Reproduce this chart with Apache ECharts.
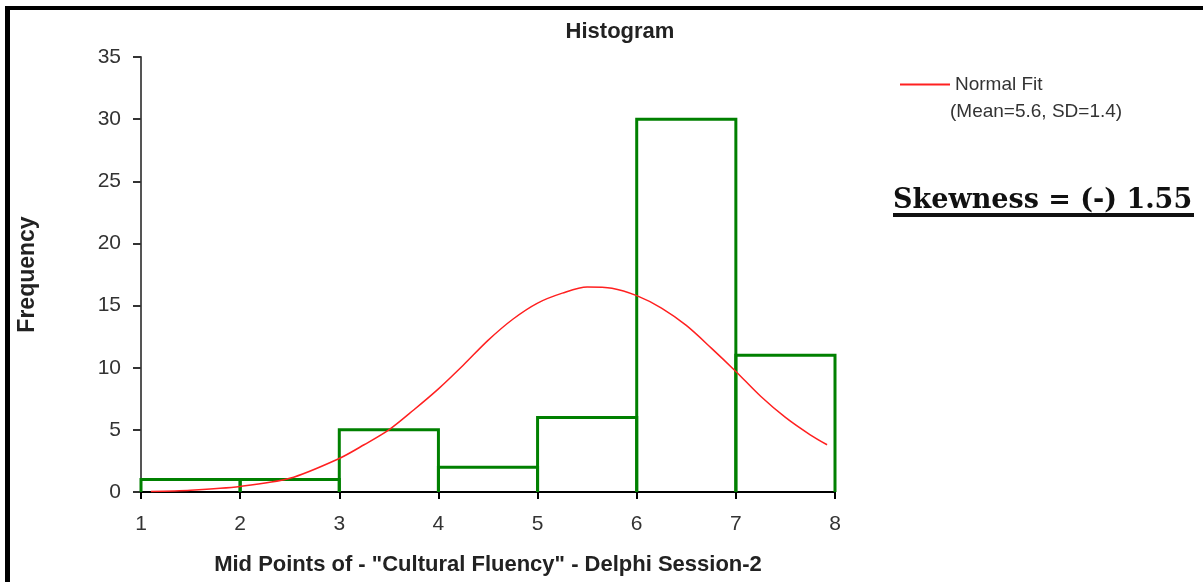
<!DOCTYPE html>
<html>
<head>
<meta charset="utf-8">
<script src="https://cdn.jsdelivr.net/npm/echarts@6/dist/echarts.min.js"></script>
<style>
  html, body { margin: 0; padding: 0; background: #ffffff; }
  #chart { width: 1203px; height: 582px; }
</style>
</head>
<body>
<div id="chart"></div>
<script>
// Histogram bins (class limits) and frequencies
const binStart = [1, 2, 3, 4, 5, 6, 7];
const binEnd   = [2, 3, 4, 5, 6, 7, 8];
const frequency = [1, 1, 5, 2, 6, 30, 11];

// Normal fit curve
const fitX = [1.1, 1.5, 2, 2.5, 3, 3.25, 3.5, 3.75, 4, 4.25, 4.5, 4.75, 5, 5.25, 5.5, 5.75, 6, 6.25, 6.5, 6.75, 7, 7.25, 7.5, 7.75, 7.92];
const fitY = [0.05, 0.15, 0.45, 1.1, 2.7, 3.8, 5.0, 6.6, 8.3, 10.2, 12.2, 13.9, 15.2, 16.0, 16.5, 16.4, 15.8, 14.8, 13.4, 11.6, 9.7, 7.7, 6.0, 4.6, 3.8];

const xTicks = [1, 2, 3, 4, 5, 6, 7, 8];
const yTicks = [0, 5, 10, 15, 20, 25, 30, 35];

const titleText = 'Histogram';
const xName = 'Mid Points of - "Cultural Fluency" - Delphi Session-2';
const yName = 'Frequency';
const fitName = 'Normal Fit';
const fitNote = '(Mean=5.6, SD=1.4)';
const skewText = 'Skewness = (-) 1.55';

const histData = binStart.map((s, i) => [s, binEnd[i], frequency[i]]);
const fitData = fitX.map((x, i) => [x, fitY[i]]);

const chart = echarts.init(document.getElementById('chart'));
chart.setOption({
  backgroundColor: '#ffffff',
  animation: false,
  title: {
    text: titleText,
    left: 615,
    top: 16,
    textAlign: 'center',
    textStyle: { fontFamily: 'Liberation Sans, Arial, sans-serif', fontSize: 22, fontWeight: 'bold', color: '#222' }
  },
  legend: {
    left: 895,
    top: 70,
    icon: 'rect',
    itemWidth: 50,
    itemHeight: 2,
    itemGap: 5,
    data: [fitName],
    textStyle: { fontFamily: 'Liberation Sans, Arial, sans-serif', fontSize: 19, color: '#333' }
  },
  grid: { left: 141, right: 368, top: 57, bottom: 90, containLabel: false },
  xAxis: {
    type: 'value',
    min: xTicks[0],
    max: xTicks[xTicks.length - 1],
    interval: 1,
    name: xName,
    nameLocation: 'middle',
    nameGap: 62,
    nameTextStyle: { fontFamily: 'Liberation Sans, Arial, sans-serif', fontSize: 22, fontWeight: 'bold', color: '#222' },
    axisLine: { show: true, onZero: false, lineStyle: { color: '#000', width: 2 } },
    axisTick: { show: true, length: 7, lineStyle: { color: '#000', width: 2 } },
    axisLabel: { margin: 22, fontFamily: 'Liberation Sans, Arial, sans-serif', fontSize: 21, color: '#333' },
    splitLine: { show: false }
  },
  yAxis: {
    type: 'value',
    min: yTicks[0],
    max: yTicks[yTicks.length - 1],
    interval: 5,
    name: yName,
    nameLocation: 'middle',
    nameGap: 102,
    nameTextStyle: { fontFamily: 'Liberation Sans, Arial, sans-serif', fontSize: 23, fontWeight: 'bold', color: '#222' },
    axisLine: { show: true, lineStyle: { color: '#555', width: 2 } },
    axisTick: { show: true, length: 8, lineStyle: { color: '#333', width: 2 } },
    axisLabel: { margin: 20, fontFamily: 'Liberation Sans, Arial, sans-serif', fontSize: 21, color: '#333' },
    splitLine: { show: false }
  },
  graphic: [
    { type: 'rect', shape: { x: 5, y: 6, width: 5, height: 576 }, style: { fill: '#000' } },
    { type: 'rect', shape: { x: 5, y: 6, width: 1198, height: 4 }, style: { fill: '#000' } },
    {
      type: 'text', left: 950, top: 102,
      style: { text: fitNote, fontFamily: 'Liberation Sans, Arial, sans-serif', fontSize: 19, fill: '#333' }
    },
    {
      type: 'text', left: 893, top: 187,
      style: { text: skewText, fontFamily: 'DejaVu Serif, serif', fontSize: 27, fontWeight: 'bold', fill: '#111' }
    },
    { type: 'rect', shape: { x: 893, y: 213, width: 301, height: 4 }, style: { fill: '#111' } }
  ],
  series: [
    {
      type: 'custom',
      name: 'Histogram',
      data: histData,
      z: 2,
      renderItem: function (params, api) {
        const a = api.coord([api.value(0), 0]);
        const b = api.coord([api.value(0), api.value(2)]);
        const c = api.coord([api.value(1), api.value(2)]);
        const d = api.coord([api.value(1), 0]);
        return {
          type: 'polyline',
          shape: { points: [a, b, c, d] },
          style: { fill: null, stroke: '#008000', lineWidth: 3 }
        };
      }
    },
    {
      type: 'line',
      name: fitName,
      data: fitData,
      smooth: 0.3,
      symbol: 'none',
      showSymbol: false,
      z: 3,
      lineStyle: { color: '#ff2020', width: 1.5 },
      itemStyle: { color: '#ff2020' }
    }
  ]
});
</script>
</body>
</html>
